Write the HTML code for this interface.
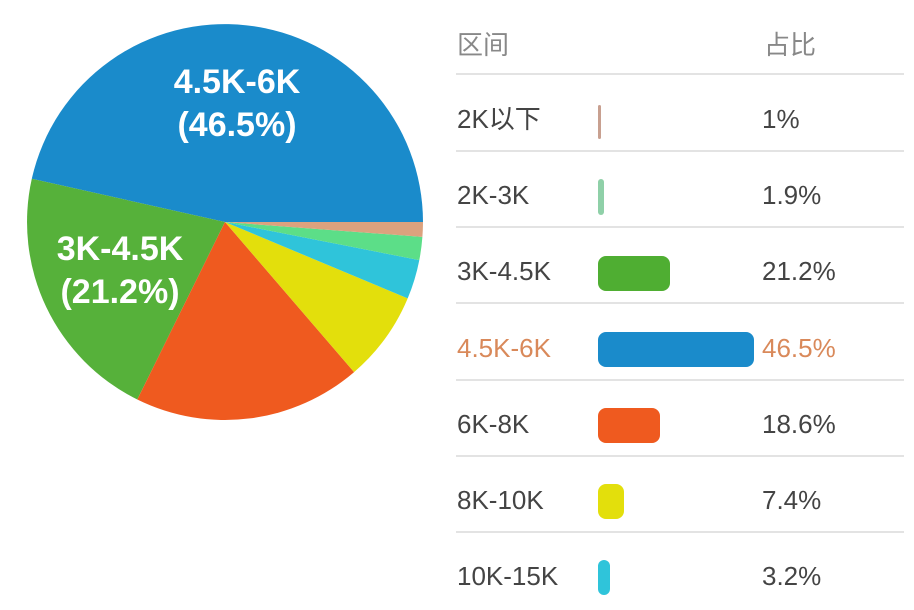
<!DOCTYPE html>
<html><head><meta charset="utf-8"><style>
body{margin:0;width:914px;height:610px;background:#fff;overflow:hidden;font-family:"Liberation Sans","Noto Sans CJK SC",sans-serif;}
svg{position:absolute;left:0;top:0}
</style></head><body>
<svg width="914" height="610" viewBox="0 0 914 610">
<g>
<path d="M225,222 L423,222 A198,198 0 0 0 31.8,178.8 Z" fill="#1a8bcb"/>
<path d="M225,222 L31.8,178.8 A198,198 0 0 0 137.3,399.5 Z" fill="#56b13a"/>
<path d="M225,222 L137.3,399.5 A198,198 0 0 0 354.1,372.1 Z" fill="#ef5a1f"/>
<path d="M225,222 L354.1,372.1 A198,198 0 0 0 407.7,298.4 Z" fill="#e3df0c"/>
<path d="M225,222 L407.7,298.4 A198,198 0 0 0 419.3,260.1 Z" fill="#2fc4da"/>
<path d="M225,222 L419.3,260.1 A198,198 0 0 0 422.4,236.9 Z" fill="#5cde88"/>
<path d="M225,222 L422.4,236.9 A198,198 0 0 0 423,222 Z" fill="#dca27e"/>
</g>
<g fill="#fff" font-weight="bold" font-size="34" text-anchor="middle" font-family="Liberation Sans, sans-serif">
<text x="237" y="93">4.5K-6K</text>
<text x="237" y="136">(46.5%)</text>
<text x="120" y="260">3K-4.5K</text>
<text x="120" y="303">(21.2%)</text>
</g>
<g stroke="#e3e3e3" stroke-width="2">
<line x1="456" y1="74" x2="904" y2="74"/>
<line x1="456" y1="151" x2="904" y2="151"/>
<line x1="456" y1="227" x2="904" y2="227"/>
<line x1="456" y1="303" x2="904" y2="303"/>
<line x1="456" y1="380" x2="904" y2="380"/>
<line x1="456" y1="456" x2="904" y2="456"/>
<line x1="456" y1="532" x2="904" y2="532"/>
</g>
<g font-size="26" fill="#444">
<text x="457" y="54" fill="#888">区间</text><text x="764" y="54" fill="#888">占比</text>
<text x="457" y="128">2K以下</text><text x="762" y="128">1%</text>
<text x="457" y="204">2K-3K</text><text x="762" y="204">1.9%</text>
<text x="457" y="280">3K-4.5K</text><text x="762" y="280">21.2%</text>
<text x="457" y="357" fill="#d9895a">4.5K-6K</text><text x="762" y="357" fill="#d9895a">46.5%</text>
<text x="457" y="433">6K-8K</text><text x="762" y="433">18.6%</text>
<text x="457" y="509">8K-10K</text><text x="762" y="509">7.4%</text>
<text x="457" y="585">10K-15K</text><text x="762" y="585">3.2%</text>
</g>
<rect x="598" y="105" width="3" height="34" rx="1.5" fill="#c8a090"/>
<rect x="598" y="179" width="6" height="36" rx="3" fill="#8fd0a8"/>
<rect x="598" y="256" width="72" height="35" rx="8" fill="#4fae32"/>
<rect x="598" y="332" width="156" height="35" rx="8" fill="#1a8bcb"/>
<rect x="598" y="408" width="62" height="35" rx="8" fill="#ef5a1f"/>
<rect x="598" y="484" width="26" height="35" rx="8" fill="#e3df0c"/>
<rect x="598" y="560" width="12" height="35" rx="6" fill="#2fc4da"/>
</svg>
</body></html>
